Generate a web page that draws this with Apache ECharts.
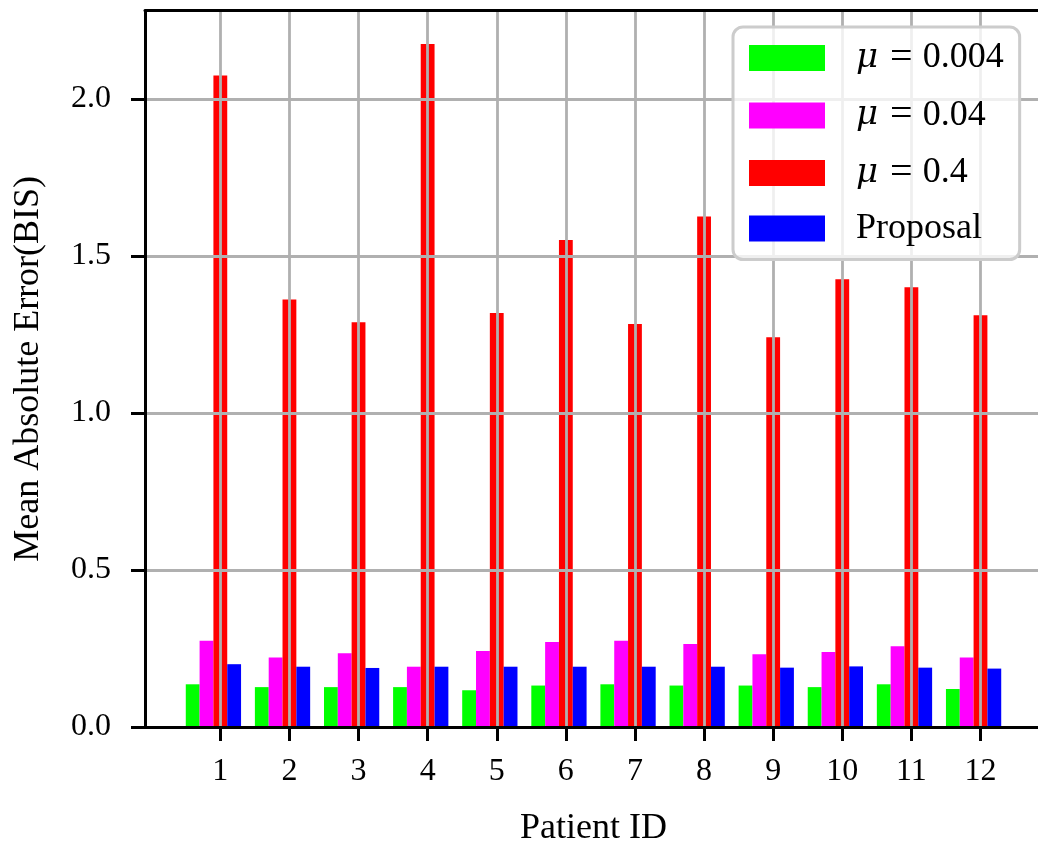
<!DOCTYPE html>
<html>
<head>
<meta charset="utf-8">
<script src="https://cdn.jsdelivr.net/npm/echarts@6/dist/echarts.min.js"></script>
<style>html,body{margin:0;padding:0;background:#fff}#c{width:1038px;height:846px}</style>
</head>
<body>
<div id="c"></div>
<script>
const patients = [1,2,3,4,5,6,7,8,9,10,11,12];
const seriesNames = ['μ = 0.004', 'μ = 0.04', 'μ = 0.4', 'Proposal'];
const mu004 = [0.136,0.127,0.127,0.127,0.117,0.132,0.136,0.132,0.132,0.127,0.136,0.121];
const mu04 = [0.275,0.221,0.235,0.192,0.242,0.271,0.275,0.264,0.232,0.239,0.257,0.221];
const mu4 = [2.075,1.361,1.289,2.175,1.318,1.551,1.283,1.626,1.241,1.426,1.400,1.311];
const proposal = [0.200,0.192,0.188,0.192,0.192,0.192,0.192,0.192,0.189,0.193,0.189,0.186];
const yTicks = [0, 0.5, 1.0, 1.5, 2.0];
const colors = ['#00ff00', '#ff00ff', '#ff0000', '#0000ff'];

const FONT = 'Liberation Serif';
const pairs = arr => patients.map((p, i) => [p, arr[i]]);
const allSeries = [mu004, mu04, mu4, proposal];

const series = allSeries.map((arr, k) => ({
  name: seriesNames[k],
  type: 'bar',
  data: pairs(arr),
  barWidth: '20%',
  barGap: '0%',
  itemStyle: { color: colors[k] },
  z: 2
}));
// transparent spacer so the group is centred on the third (red) bar
series.push({
  name: '_spacer',
  type: 'bar',
  data: patients.map(p => [p, 0]),
  barWidth: '20%',
  barGap: '0%',
  itemStyle: { color: 'rgba(0,0,0,0)' },
  silent: true,
  z: 2
});

const chart = echarts.init(document.getElementById('c'), null, { renderer: 'canvas' });
chart.setOption({
  animation: false,
  backgroundColor: '#ffffff',
  textStyle: { fontFamily: FONT },
  grid: { left: 145, top: 10.7, right: -4, bottom: 119, containLabel: false, outerBoundsMode: 'none' },
  legend: {
    data: seriesNames,
    orient: 'vertical',
    left: 733, top: 27,
    itemWidth: 76, itemHeight: 26, itemGap: 17.5,
    icon: 'rect',
    padding: [11, 16, 13, 16],
    backgroundColor: 'rgba(255,255,255,0.8)',
    borderColor: '#cccccc', borderWidth: 3, borderRadius: 10,
    z: 10,
    formatter: name => name.indexOf('μ') === 0 ? name.replace('μ = ', '{i|μ}{e|=}{n|') + '}' : '{n|' + name + '}',
    textStyle: {
      fontFamily: FONT, fontSize: 36, color: '#000', lineHeight: 30, height: 30,
      padding: [0, 0, 0, 26],
      rich: {
        i: { fontFamily: 'DejaVu Serif', fontStyle: 'italic', fontSize: 34, color: '#000', lineHeight: 30, height: 30 },
        e: { fontFamily: FONT, fontSize: 40, color: '#000', padding: [0, 10, 0, 12], lineHeight: 30, height: 30 },
        n: { fontFamily: FONT, fontSize: 36, color: '#000', lineHeight: 30, height: 30 }
      }
    }
  },
  xAxis: [{
    type: 'value',
    min: -0.09, max: 12.89,
    z: 3,
    name: 'Patient ID',
    nameLocation: 'middle',
    nameGap: 84,
    nameTextStyle: { fontFamily: FONT, fontSize: 36, color: '#000' },
    axisLine: { show: true, onZero: false, lineStyle: { color: '#000', width: 3 } },
    axisTick: { show: true, length: 14, lineStyle: { color: '#000', width: 3 }, customValues: patients },
    axisLabel: { fontFamily: FONT, fontSize: 32, color: '#000', margin: 29, customValues: patients, formatter: v => String(v) },
    splitLine: { show: true, lineStyle: { color: '#b0b0b0', width: 2.8 } }
  }, {
    type: 'value',
    position: 'top',
    min: -0.09, max: 12.89,
    z: 3,
    axisLine: { show: true, onZero: false, lineStyle: { color: '#000', width: 3 } },
    axisTick: { show: false },
    axisLabel: { show: false },
    splitLine: { show: false }
  }],
  yAxis: {
    type: 'value',
    min: 0, max: 2.281,
    z: 3,
    name: 'Mean Absolute Error(BIS)',
    nameLocation: 'middle',
    nameGap: 98,
    nameTextStyle: { fontFamily: FONT, fontSize: 36, color: '#000' },
    axisLine: { show: true, onZero: false, lineStyle: { color: '#000', width: 3 } },
    axisTick: { show: true, length: 14, lineStyle: { color: '#000', width: 3 }, customValues: yTicks },
    axisLabel: { fontFamily: FONT, fontSize: 32, color: '#000', margin: 34, customValues: yTicks, formatter: v => v.toFixed(1) },
    splitLine: { show: true, lineStyle: { color: '#b0b0b0', width: 2.8 } }
  },
  series: series
});
</script>
</body>
</html>
